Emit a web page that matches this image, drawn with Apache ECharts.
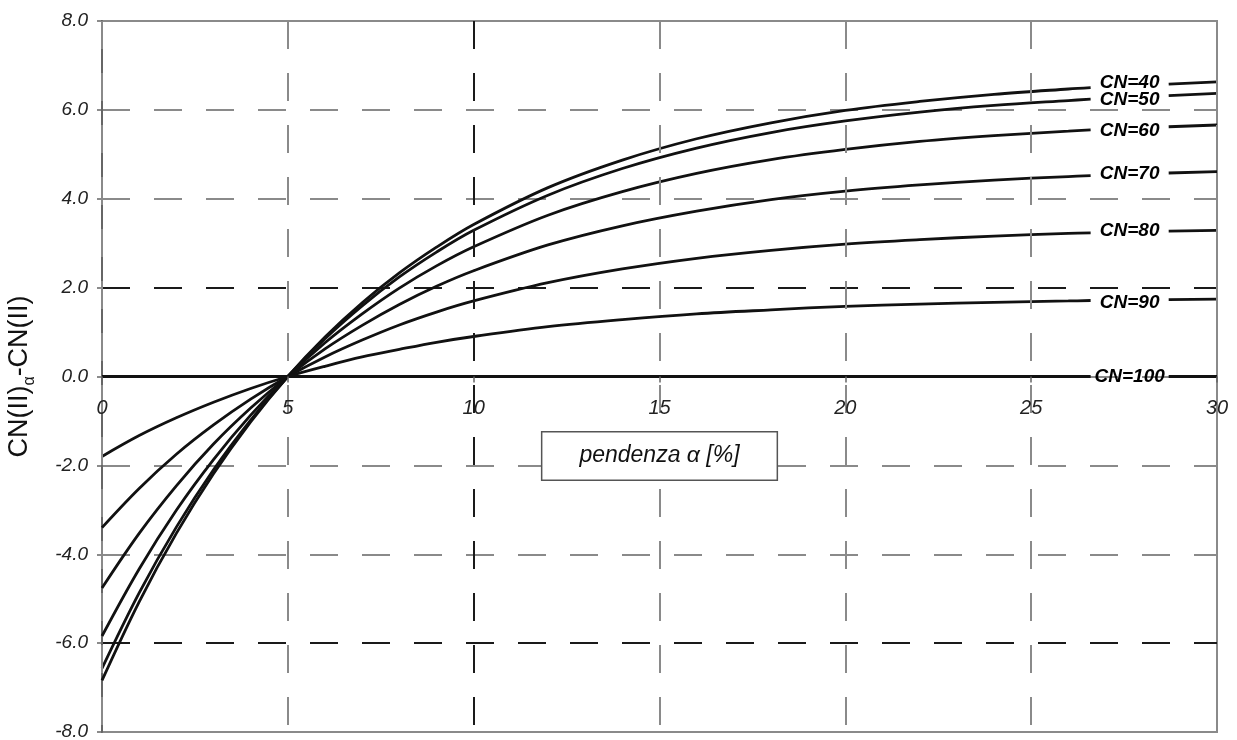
<!DOCTYPE html>
<html>
<head>
<meta charset="utf-8">
<script src="https://cdn.jsdelivr.net/npm/echarts@6/dist/echarts.min.js"></script>
<style>
  html, body { margin: 0; padding: 0; background: #fff; }
  #chart { width: 1237px; height: 740px; }
</style>
</head>
<body>
<div id="chart"></div>
<script>
// Slope values (%) at which each curve is sampled
const slope = [0, 1, 2, 3, 4, 5, 6, 7, 8, 9, 10, 12, 14, 16, 18, 20, 22, 24, 26, 26.6, 28.7, 30];
// Curves are interrupted between these two slopes to leave room for their labels
const gapStart = 26.6;
const labelSlope = 27.65;

// CN(II)α - CN(II) for each CN(II) class
const cn40  = [-6.84, -5.07, -3.53, -2.19, -1.02, 0, 0.89, 1.66, 2.33, 2.91, 3.42, 4.25, 4.87, 5.35, 5.71, 5.99, 6.19, 6.35, 6.47, 6.50, 6.58, 6.63];
const cn50  = [-6.57, -4.87, -3.39, -2.10, -0.98, 0, 0.85, 1.59, 2.24, 2.80, 3.29, 4.08, 4.68, 5.14, 5.49, 5.75, 5.95, 6.10, 6.21, 6.24, 6.32, 6.37];
const cn60  = [-5.84, -4.33, -3.01, -1.87, -0.87, 0, 0.76, 1.41, 1.99, 2.49, 2.92, 3.63, 4.16, 4.57, 4.88, 5.11, 5.29, 5.42, 5.52, 5.55, 5.62, 5.66];
const cn70  = [-4.76, -3.53, -2.46, -1.52, -0.71, 0, 0.62, 1.15, 1.62, 2.03, 2.38, 2.96, 3.39, 3.72, 3.98, 4.17, 4.31, 4.42, 4.50, 4.52, 4.58, 4.61];
const cn80  = [-3.40, -2.52, -1.75, -1.09, -0.51, 0, 0.44, 0.82, 1.16, 1.45, 1.70, 2.11, 2.42, 2.66, 2.84, 2.98, 3.08, 3.16, 3.22, 3.23, 3.27, 3.29];
const cn90  = [-1.80, -1.33, -0.93, -0.58, -0.27, 0, 0.23, 0.44, 0.61, 0.77, 0.90, 1.12, 1.28, 1.41, 1.50, 1.58, 1.63, 1.67, 1.70, 1.71, 1.73, 1.74];
const cn100 = [0, 0, 0, 0, 0, 0, 0, 0, 0, 0, 0, 0, 0, 0, 0, 0, 0, 0, 0, 0, 0, 0];

const curveNames = ['CN=40', 'CN=50', 'CN=60', 'CN=70', 'CN=80', 'CN=90', 'CN=100'];
const curveValues = [cn40, cn50, cn60, cn70, cn80, cn90, cn100];
// Vertical position of each curve label
const labelLevels = [6.62, 6.22, 5.54, 4.57, 3.27, 1.67, 0];

// Axis ranges and tick steps
const xRange = [0, 30], xStep = 5;
const yRange = [-8, 8], yStep = 2;

const FONT = '"Liberation Sans", Arial, sans-serif';
const dash = [28, 24];

// Plot box inside the canvas
const gridBox = { left: 102, right: 20, top: 21, bottom: 8 };
const CHART_H = 740;
const plotHeight = CHART_H - gridBox.top - gridBox.bottom;
// The x axis runs along y = 0: shift it up from the bottom edge by the share of the range below zero
const xAxisOffset = -plotHeight * (0 - yRange[0]) / (yRange[1] - yRange[0]);

function curveData(values) {
  const out = [];
  slope.forEach((x, i) => {
    out.push([x, values[i]]);
    if (x === gapStart) out.push([labelSlope, '-']);
  });
  return out;
}

const series = curveNames.map((name, k) => ({
  name: name,
  type: 'line',
  data: curveData(curveValues[k]),
  smooth: 0.35,
  showSymbol: false,
  connectNulls: false,
  lineStyle: { color: '#111', width: 2.8 },
  z: 3,
  animation: false
}));

series.push({
  name: 'labels',
  type: 'scatter',
  data: curveNames.map((name, k) => ({ name: name, value: [labelSlope, labelLevels[k]] })),
  symbolSize: 1,
  itemStyle: { color: 'rgba(0,0,0,0)' },
  label: {
    show: true,
    position: 'inside',
    formatter: '{b}',
    fontFamily: FONT,
    fontStyle: 'italic',
    fontWeight: 'bold',
    fontSize: 19,
    color: '#000',
    textBorderWidth: 0,
    opacity: 1
  },
  z: 5,
  animation: false
});

const chart = echarts.init(document.getElementById('chart'), null, { renderer: 'canvas' });
chart.setOption({
  backgroundColor: '#fff',
  animation: false,
  grid: {
    left: gridBox.left, right: gridBox.right, top: gridBox.top, bottom: gridBox.bottom,
    containLabel: false,
    outerBoundsMode: 'none',
    show: true,
    borderColor: '#8a8a8a',
    borderWidth: 2,
    backgroundColor: 'transparent'
  },
  xAxis: {
    type: 'value',
    position: 'bottom',
    offset: xAxisOffset,
    min: xRange[0], max: xRange[1], interval: xStep,
    z: 4,
    name: 'pendenza α [%]',
    nameLocation: 'middle',
    nameGap: 56,
    nameTextStyle: {
      fontFamily: FONT,
      fontStyle: 'italic',
      fontSize: 23,
      color: '#111',
      backgroundColor: '#fff',
      borderColor: '#555',
      borderWidth: 1.5,
      padding: [12, 37, 12, 37]
    },
    axisLine: { show: true, onZero: false, lineStyle: { color: 'rgba(0,0,0,0)' } },
    axisTick: { show: true, length: 6, lineStyle: { color: '#666', width: 1.5 } },
    axisLabel: {
      margin: 22,
      fontFamily: FONT,
      fontStyle: 'italic',
      fontSize: 20,
      color: '#222'
    },
    splitLine: {
      show: true,
      lineStyle: {
        type: dash,
        width: 2,
        color: ['#8a8a8a', '#8a8a8a', '#1a1a1a', '#8a8a8a', '#8a8a8a', '#8a8a8a', '#8a8a8a']
      }
    }
  },
  yAxis: {
    type: 'value',
    min: yRange[0], max: yRange[1], interval: yStep,
    z: 1,
    name: '{a|CN(II)}{s|α}{a|-CN(II)}',
    nameLocation: 'middle',
    nameRotate: 90,
    nameGap: 64,
    nameTextStyle: {
      rich: {
        a: { fontFamily: FONT, fontSize: 27, color: '#111', lineHeight: 36, verticalAlign: 'middle' },
        s: { fontFamily: FONT, fontSize: 16, color: '#111', lineHeight: 16, verticalAlign: 'bottom' }
      }
    },
    axisLine: { show: true, onZero: false, lineStyle: { color: '#666', width: 2 } },
    axisTick: { show: true, length: 5, lineStyle: { color: '#666', width: 1.5 } },
    axisLabel: {
      margin: 14,
      fontFamily: FONT,
      fontStyle: 'italic',
      fontSize: 19,
      color: '#222',
      formatter: v => v.toFixed(1)
    },
    splitLine: {
      show: true,
      lineStyle: {
        type: dash,
        width: 2,
        color: ['#8a8a8a', '#1a1a1a', '#8a8a8a', '#8a8a8a', '#8a8a8a', '#1a1a1a', '#8a8a8a', '#8a8a8a', '#8a8a8a']
      }
    }
  },
  series: series
});
</script>
</body>
</html>
